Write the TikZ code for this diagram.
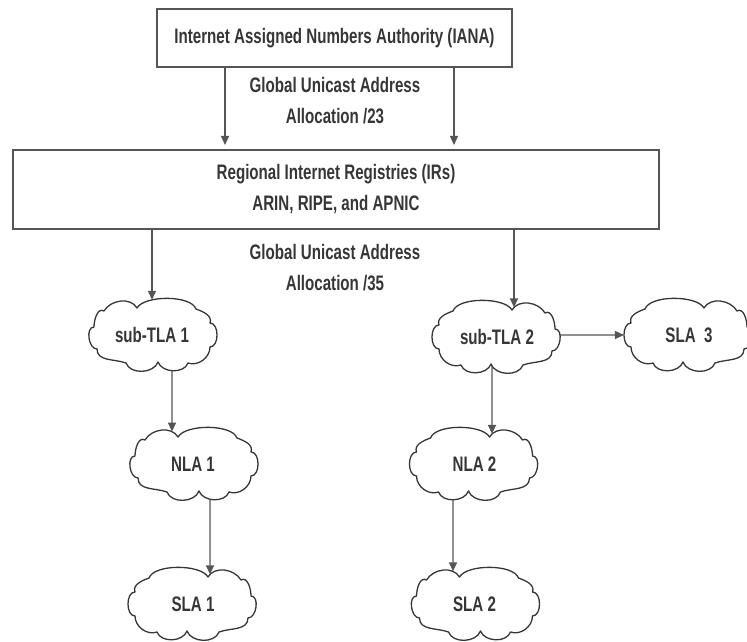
\documentclass[tikz,border=0pt]{standalone}
\usepackage{fontspec}
\setmainfont{Liberation Sans}[FakeStretch=0.72]
\usetikzlibrary{arrows.meta,intersections,calc}

\definecolor{ink}{HTML}{363636}
\definecolor{rule}{HTML}{555555}

\tikzset{
  every node/.style={text=ink, font=\fontsize{21}{31}\selectfont\bfseries},
  boxnode/.style={draw=rule, line width=2pt, inner sep=0pt, align=center},
  lbl/.style={align=center, inner sep=0pt},
  cloudnode/.style={minimum width=130pt, minimum height=72pt, inner sep=0pt},
  cloudline/.style={draw=ink, line width=1.3pt, line join=round},
  link/.style={draw=rule, line width=1.4pt, -{Triangle[length=9pt,width=8pt]}},
}

% cloud outline around a named node; optional argument mirrors it
\newcommand\cloudoutline[2][1]{%
  \draw[cloudline, name path=#2, shift={(#2.center)}, xscale=#1]
    (-58,-12) to[out=180,in=180] (-58,12)
    to[out=110,in=200] (-44,26)
    to[out=70,in=120,looseness=0.65] (15,27)
    to[out=60,in=120] (48,24)
    to[out=30,in=90] (58,8)
    to[out=0,in=0] (55,-14)
    to[out=270,in=20] (26,-28)
    to[out=250,in=290] (-6,-27)
    to[out=250,in=290] (-36,-28)
    to[out=200,in=270] (-58,-12) -- cycle;}

% vertical link from cloud #1 down to cloud #2, offset #3 from the centre of #2
\newcommand\vconn[3]{%
  \path[name path=vline] ($(#2.center)+(#3,260)$) -- ($(#2.center)+(#3,-60)$);
  \path[name intersections={of=#1 and vline, sort by=vline, name=pa}];
  \path[name intersections={of=#2 and vline, sort by=vline, name=pb}];
  \draw[link] (pa-2) -- (pb-1);}

% vertical link from the registries box down to cloud #1
\newcommand\irconn[2]{%
  \path[name path=vline] ($(#1.center)+(#2,120)$) -- ($(#1.center)+(#2,0)$);
  \path[name intersections={of=#1 and vline, sort by=vline, name=pb}];
  \draw[link] (ir.south -| pb-1) -- (pb-1);}

\begin{document}
\begin{tikzpicture}[x=1pt, y=1pt]
  \useasboundingbox (0,0) rectangle (747,641);

  % boxes
  \node[boxnode, minimum width=355pt, minimum height=58pt] (iana) at (334.5,603)
    {Internet Assigned Numbers Authority (IANA)};
  \node[boxnode, minimum width=646pt, minimum height=79pt] (ir) at (336,451.5)
    {Regional Internet Registries (IRs)\\ARIN, RIPE, and APNIC};

  % allocation labels
  \node[lbl] (alloc23) at (335,540) {Global Unicast Address\\Allocation /23};
  \node[lbl] (alloc35) at (335,373) {Global Unicast Address\\Allocation /35};

  % clouds
  \node[cloudnode] (sub1) at (152,306) {sub-TLA 1};
  \node[cloudnode] (sub2) at (497,304) {sub-TLA 2};
  \node[cloudnode] (sla3) at (689,306) {SLA\ \ 3};
  \node[cloudnode] (nla1) at (193,177) {NLA 1};
  \node[cloudnode] (nla2) at (474.5,177) {NLA 2};
  \node[cloudnode] (sla1) at (193,37) {SLA 1};
  \node[cloudnode] (sla2) at (474.5,37) {SLA 2};

  \cloudoutline[-1]{sub1}
  \cloudoutline{sub2}
  \cloudoutline{sla3}
  \cloudoutline[-1]{nla1}
  \cloudoutline{nla2}
  \cloudoutline{sla1}
  \cloudoutline[-1]{sla2}

  % IANA to registries
  \draw[link, shorten >=4pt] ([xshift=-109.5pt]iana.south) -- ([xshift=-109.5pt]iana.south |- ir.north);
  \draw[link, shorten >=4pt] ([xshift=119.5pt]iana.south) -- ([xshift=119.5pt]iana.south |- ir.north);

  % registries to sub-TLAs
  \irconn{sub1}{0}
  \irconn{sub2}{17}

  % sub-TLA 2 to SLA 3
  \path[name path=hline] ($(sla3.center)+(-290,0)$) -- (sla3.center);
  \path[name intersections={of=sub2 and hline, sort by=hline, name=ha}];
  \path[name intersections={of=sla3 and hline, sort by=hline, name=hb}];
  \draw[link] (ha-2) -- (hb-1);

  % down the two branches
  \vconn{sub1}{nla1}{-21}
  \vconn{nla1}{sla1}{17}
  \vconn{sub2}{nla2}{17.5}
  \vconn{nla2}{sla2}{-21.5}
\end{tikzpicture}
\end{document}
